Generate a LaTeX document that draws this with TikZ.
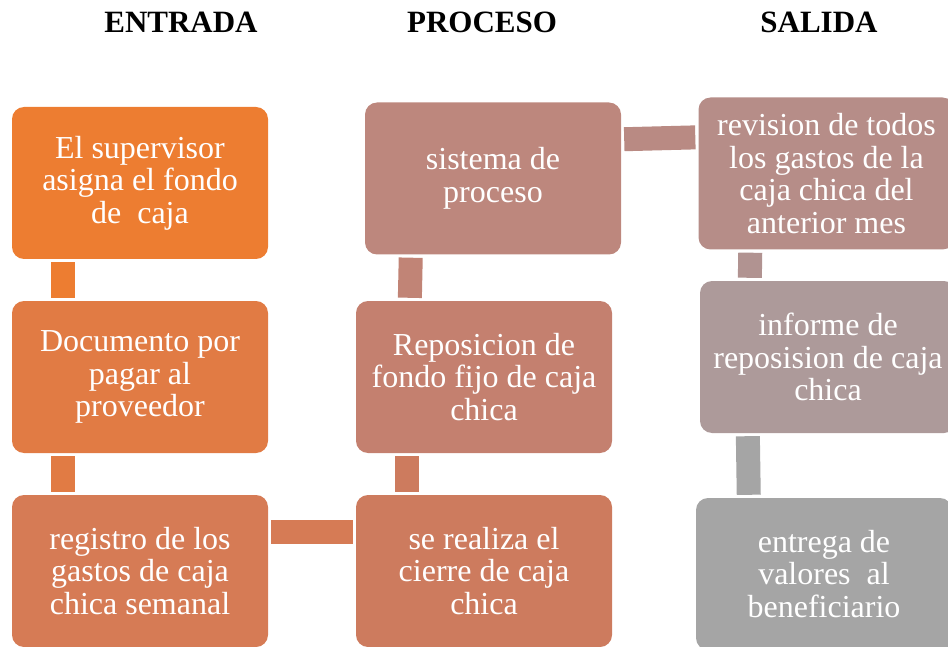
\documentclass[tikz,border=0pt]{standalone}
\usepackage{fontspec}
\setmainfont{Liberation Serif}
\usepackage{tikz}
\usetikzlibrary{calc}

\definecolor{cA}{RGB}{237,125,49}
\definecolor{cB}{RGB}{225,123,68}
\definecolor{cC}{RGB}{214,123,85}
\definecolor{cCierre}{RGB}{205,123,94}
\definecolor{cRepos}{RGB}{196,128,111}
\definecolor{cSist}{RGB}{189,135,125}
\definecolor{cRev}{RGB}{182,141,136}
\definecolor{cInf}{RGB}{173,154,154}
\definecolor{cEnt}{RGB}{165,165,165}

\begin{document}
\begin{tikzpicture}[x=1pt,y=-1pt,
    caja/.style={rounded corners=12pt, minimum width=256pt, minimum height=152pt,
      inner sep=0pt, align=center, text=white, font=\fontsize{32}{32.5}\selectfont,
      execute at begin node={\vspace*{6pt}}},
    barra/.style={line width=24pt, shorten <=3pt, shorten >=3pt},
    titulo/.style={anchor=base, font=\fontsize{31}{36}\selectfont\bfseries}]

  \useasboundingbox (0,0) rectangle (948,647);
  \clip (0,0) rectangle (948,647);

  % titulos
  \node[titulo] (tEnt) at (181,33) {ENTRADA};
  \node[titulo] (tPro) at (482,33) {PROCESO};
  \node[titulo] (tSal) at (819,33) {SALIDA};

  % entrada
  \node[caja, fill=cA] (A) at (140,183) {El supervisor\\asigna el fondo\\de\ \ caja};
  \node[caja, fill=cB] (B) at (140,377) {Documento por\\pagar al\\proveedor};
  \node[caja, fill=cC] (C) at (140,571) {registro de los\\gastos de caja\\chica semanal};

  % proceso
  \node[caja, fill=cSist] (Sist) at (493,178.5) {sistema de\\proceso};
  \node[caja, fill=cRepos] (Repos) at (484,377) {Reposicion de\\fondo fijo de caja\\chica};
  \node[caja, fill=cCierre] (Cierre) at (484,571) {se realiza el\\cierre de caja\\chica};

  % salida
  \node[caja, fill=cRev] (Rev) at (826.5,173.5) {revision de todos\\los gastos de la\\caja chica del\\anterior mes};
  \node[caja, fill=cInf] (Inf) at (828,357) {informe de\\reposision de caja\\chica};
  \node[caja, fill=cEnt] (Ent) at (824,574) {entrega de\\valores\ \ al\\beneficiario};

  % barras
  \draw[barra, cA] ([xshift=51pt]A.south west) -- ([xshift=51pt]B.north west);
  \draw[barra, cB] ([xshift=51pt]B.south west) -- ([xshift=51pt]C.north west);
  \draw[barra, cC] ([yshift=-37pt]C.north east) -- ([yshift=-37pt]Cierre.north west);
  \draw[barra, cCierre] ([xshift=51pt]Cierre.north west) -- ([xshift=51pt]Repos.south west);
  \draw[barra, cRepos!50!cSist] ([xshift=54pt]Repos.north west) -- ([xshift=46pt]Sist.south west);
  \draw[barra, cSist!50!cRev] ([yshift=-37pt]Sist.north east) -- ([yshift=-40pt]Rev.north west);
  \draw[barra, cRev!50!cInf] ([xshift=52pt]Rev.south west) -- ([xshift=50pt]Inf.north west);
  \draw[barra, cEnt] ([xshift=48pt]Inf.south west) -- ([xshift=53pt]Ent.north west);

\end{tikzpicture}
\end{document}
